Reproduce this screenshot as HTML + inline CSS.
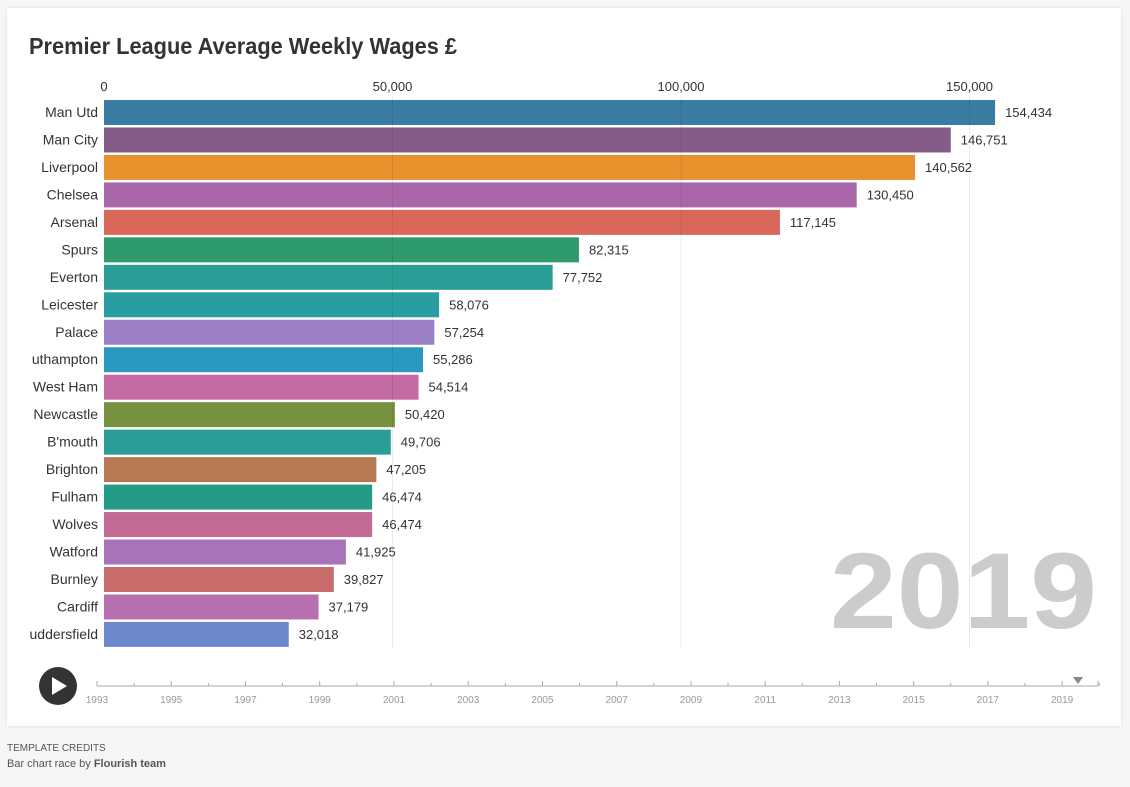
<!DOCTYPE html>
<html><head><meta charset="utf-8"><style>
body{margin:0;width:1130px;height:787px;background:#f6f6f6;font-family:"Liberation Sans",sans-serif;overflow:hidden}
#card{position:absolute;left:7px;top:8px;width:1114px;height:718px;background:#fff;box-shadow:0 0 3px rgba(0,0,0,0.12)}
svg{position:absolute;left:0;top:0}
.cred{position:absolute;left:7px;font-size:10px;color:#555}
</style></head><body>
<div id="card"></div>
<svg id="chart" width="1130" height="787">
<text x="29" y="54" font-size="23" font-weight="bold" fill="#333" textLength="428" lengthAdjust="spacingAndGlyphs">Premier League Average Weekly Wages £</text>
<text x="830" y="628" font-size="108" font-weight="bold" fill="#cccccc" textLength="267" lengthAdjust="spacingAndGlyphs">2019</text>
<g id="grid"></g><g id="bars"></g><g id="timeline"></g>
<g><circle cx="58" cy="686" r="19" fill="#333"/><polygon points="52,677 52,695 67,686" fill="#fff"/></g>
<polygon points="1073,677 1083,677 1078,684" fill="#888"/>
</svg>
<div class="cred" style="top:743px">TEMPLATE CREDITS</div>
<div class="cred" style="top:758px;font-size:11px">Bar chart race by <b>Flourish team</b></div>
<script>
const teams=["Man Utd","Man City","Liverpool","Chelsea","Arsenal","Spurs","Everton","Leicester","Palace","uthampton","West Ham","Newcastle","B'mouth","Brighton","Fulham","Wolves","Watford","Burnley","Cardiff","uddersfield"];
const wages=[154434,146751,140562,130450,117145,82315,77752,58076,57254,55286,54514,50420,49706,47205,46474,46474,41925,39827,37179,32018];
const colors=["#3b7ca3","#845c87","#e8912d","#a967aa","#d9685a","#2f9a6b","#2a9d96","#2a9da3","#9c80c6","#2a99bf","#c46aa4","#76913f","#2a9d96","#b57a51","#249b84","#c46a97","#a973b9","#c86b6b","#b86fb0","#6d87cc"];
const ticks=[0,50000,100000,150000];
const years=[1993,1995,1997,1999,2001,2003,2005,2007,2009,2011,2013,2015,2017,2019];
const NS="http://www.w3.org/2000/svg";
const x=v=>104+v*0.005770;
const y=i=>100+i*27.47;
const tx=yr=>97+(yr-1993)*37.12;
function mk(t,a,p){const e=document.createElementNS(NS,t);for(const k in a)e.setAttribute(k,a[k]);p.appendChild(e);return e;}
const grid=document.getElementById('grid'),bars=document.getElementById('bars'),tl=document.getElementById('timeline');
ticks.forEach(t=>{
 const l=mk('text',{x:x(t),y:91,'text-anchor':'middle','font-size':13,fill:'#333'},grid);l.textContent=t.toLocaleString('en-US');
 
 
});
teams.forEach((n,i)=>{
 const r=mk('rect',{x:104,y:y(i),width:x(wages[i])-104,height:25,fill:colors[i]},bars);
 
 
 const lb=mk('text',{x:98,y:y(i)+17,'text-anchor':'end','font-size':14,fill:'#333'},bars);lb.textContent=n;
 
 
 const v=mk('text',{x:x(wages[i])+10,y:y(i)+17,'font-size':13,fill:'#333'},bars);v.textContent=wages[i].toLocaleString('en-US');
 
 
});
ticks.slice(1).forEach(t=>{
 const g=mk('line',{x1:x(t),x2:x(t),y1:96,y2:648,stroke:'rgba(0,0,0,0.08)','stroke-width':1},bars);
 
 
});
const ax=mk('line',{x1:97,x2:1098,y1:686,y2:686,stroke:'#aaa'},tl);


for(let yr=1993;yr<=2020;yr++){mk('line',{x1:tx(yr),x2:tx(yr),y1:686,y2:yr%2?681:683,stroke:'#aaa'},tl);}
mk('line',{x1:1098,x2:1098,y1:686,y2:681,stroke:'#aaa'},tl);
years.forEach(yr=>{
 const t=mk('text',{x:tx(yr),y:703,'text-anchor':'middle','font-size':10,fill:'#999'},tl);t.textContent=yr;
 
 
});
</script>
</body></html>
